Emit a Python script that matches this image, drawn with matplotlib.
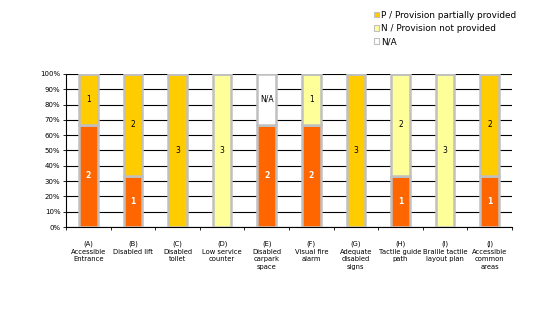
import matplotlib.pyplot as plt
import numpy as np

categories = ["(A)\nAccessible\nEntrance", "(B)\nDisabled lift", "(C)\nDisabled\ntoilet",
              "(D)\nLow service\ncounter", "(E)\nDisabled\ncarpark\nspace", "(F)\nVisual fire\nalarm",
              "(G)\nAdequate\ndisabled\nsigns", "(H)\nTactile guide\npath",
              "(I)\nBraille tactile\nlayout plan", "(J)\nAccessible\ncommon\nareas"]

# counts per category (3 assessments each)
y_counts = [2, 1, 0, 0, 2, 2, 0, 1, 0, 1]
p_counts = [1, 2, 3, 0, 0, 0, 3, 0, 0, 2]
n_counts = [0, 0, 0, 3, 0, 1, 0, 2, 3, 0]
na_counts = [0, 0, 0, 0, 1, 0, 0, 0, 0, 0]

series = [
    ("Y / Provision provided", y_counts, "#FF6600", "white"),
    ("P / Provision partially provided", p_counts, "#FFCC00", "black"),
    ("N / Provision not provided", n_counts, "#FFFF99", "black"),
    ("N/A", na_counts, "#FFFFFF", "black"),
]

fig = plt.figure(figsize=(5.55, 3.32), dpi=100)
ax = fig.add_axes([66 / 555, 1 - 227 / 332, 446 / 555, 153 / 332])

x = np.arange(len(categories))
totals = np.array(y_counts) + np.array(p_counts) + np.array(n_counts) + np.array(na_counts)
bottom = np.zeros(len(categories))
handles = []
for name, counts, color, tcolor in series:
    frac = np.array(counts) / totals
    bars = ax.bar(x, frac, 0.42, bottom=bottom, color=color, edgecolor="#C0C0C0",
                  linewidth=1.8, zorder=3, label=name)
    handles.append(bars)
    for i, v in enumerate(counts):
        if v > 0:
            txt = "N/A" if name == "N/A" else str(v)
            ax.text(x[i], bottom[i] + frac[i] / 2, txt, ha="center", va="center",
                    fontsize=5.5, color=tcolor, fontweight="bold" if tcolor == "white" else "normal",
                    zorder=4)
    bottom += frac

ax.set_xlim(-0.5, len(categories) - 0.5)
ax.set_ylim(0, 1)
ax.set_yticks(np.arange(0, 1.01, 0.1))
ax.set_yticklabels([f"{int(round(t * 100))}%" for t in np.arange(0, 1.01, 0.1)], fontsize=5)
ax.yaxis.grid(True, color="black", linewidth=0.8, zorder=0)
ax.set_axisbelow(True)
for s in ["top", "right"]:
    ax.spines[s].set_visible(False)
ax.spines["left"].set_linewidth(0.8)
ax.spines["bottom"].set_linewidth(0.8)
ax.tick_params(axis="y", length=2, width=0.6, pad=2)

ax.set_xticks(x)
ax.set_xticklabels(categories, fontsize=4.9, linespacing=1.3, va="top")
ax.tick_params(axis="x", length=0, pad=10)
ax.set_xticks(np.arange(-0.5, len(categories), 1), minor=True)
ax.tick_params(axis="x", which="minor", length=2.5, width=0.6, direction="out")

leg = fig.legend(handles[1:], [h.get_label() for h in handles[1:]], loc="upper left",
                 bbox_to_anchor=(370 / 555, 1 - 7 / 332), frameon=False, fontsize=6.4,
                 handlelength=0.6, handleheight=0.6, handletextpad=0.2, labelspacing=0.5,
                 borderaxespad=0)
for h in leg.legend_handles:
    h.set_edgecolor("#C0C0C0")
    h.set_linewidth(0.8)

fig.savefig("out.png", dpi=100)
